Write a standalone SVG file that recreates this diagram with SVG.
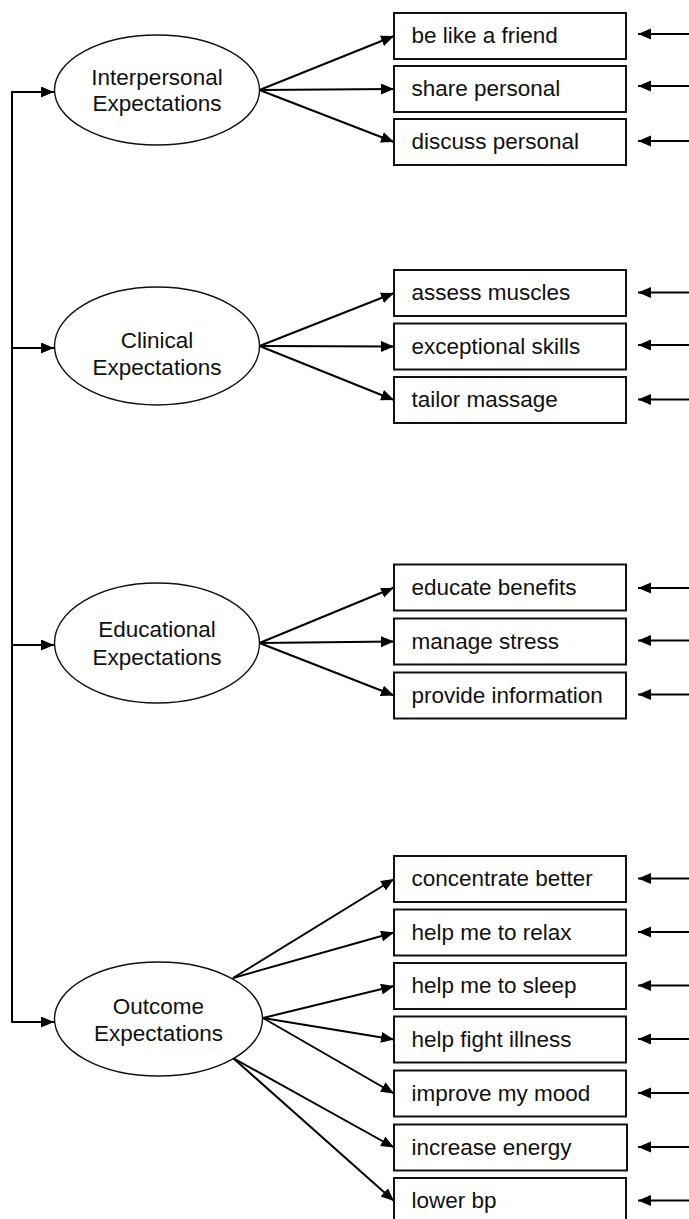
<svg xmlns="http://www.w3.org/2000/svg" width="689" height="1219" viewBox="0 0 689 1219">
<style>
.bg{fill:#fff}
.box{fill:#fff;stroke:#111;stroke-width:2}
.ell{fill:#fff;stroke:#111;stroke-width:1.4}
.t{font-family:"Liberation Sans",Arial,sans-serif;font-size:22.5px;fill:#111}
.c{text-anchor:middle}
.ln{fill:none;stroke:#000;stroke-width:2;marker-end:url(#ah)}
.trunk{fill:none;stroke:#000;stroke-width:2}
</style>
<defs>
<marker id="ah" markerUnits="userSpaceOnUse" markerWidth="14" markerHeight="12" refX="13" refY="5.5" orient="auto">
<path d="M0,0 L13,5.5 L0,11 z" fill="#000"/>
</marker>
</defs>
<rect class="bg" x="0" y="0" width="689" height="1219"/>

<g id="connectors">
<path class="trunk" d="M12,92 L12,1022"/>
<line class="ln" x1="11" y1="92" x2="54" y2="92"/>
<line class="ln" x1="12" y1="348" x2="54" y2="348"/>
<line class="ln" x1="12" y1="645" x2="54" y2="645"/>
<line class="ln" x1="11" y1="1022" x2="54" y2="1022"/>

<line class="ln" x1="259.5" y1="90" x2="394" y2="36"/>
<line class="ln" x1="259.5" y1="90" x2="394" y2="89"/>
<line class="ln" x1="259.5" y1="90" x2="394" y2="142"/>

<line class="ln" x1="259.5" y1="346" x2="394" y2="293"/>
<line class="ln" x1="259.5" y1="346" x2="394" y2="346.5"/>
<line class="ln" x1="259.5" y1="346" x2="394" y2="400"/>

<line class="ln" x1="259.5" y1="643" x2="394" y2="587.5"/>
<line class="ln" x1="259.5" y1="643" x2="394" y2="641.5"/>
<line class="ln" x1="259.5" y1="643" x2="394" y2="695.5"/>

<line class="ln" x1="233" y1="978" x2="394" y2="879"/>
<line class="ln" x1="233" y1="978" x2="394" y2="932.5"/>
<line class="ln" x1="263" y1="1018" x2="394" y2="986"/>
<line class="ln" x1="263" y1="1018" x2="394" y2="1039.5"/>
<line class="ln" x1="263" y1="1018" x2="394" y2="1093.5"/>
<line class="ln" x1="233" y1="1058" x2="394" y2="1147.5"/>
<line class="ln" x1="233" y1="1058" x2="394" y2="1201"/>

<line class="ln" x1="689" y1="34" x2="638" y2="34"/>
<line class="ln" x1="689" y1="86" x2="638" y2="86"/>
<line class="ln" x1="689" y1="141" x2="638" y2="141"/>
<line class="ln" x1="689" y1="292.5" x2="638" y2="292.5"/>
<line class="ln" x1="689" y1="345" x2="638" y2="345"/>
<line class="ln" x1="689" y1="399.5" x2="638" y2="399.5"/>
<line class="ln" x1="689" y1="588" x2="638" y2="588"/>
<line class="ln" x1="689" y1="640.5" x2="638" y2="640.5"/>
<line class="ln" x1="689" y1="694.5" x2="638" y2="694.5"/>
<line class="ln" x1="689" y1="878.5" x2="638" y2="878.5"/>
<line class="ln" x1="689" y1="932" x2="638" y2="932"/>
<line class="ln" x1="689" y1="985.5" x2="638" y2="985.5"/>
<line class="ln" x1="689" y1="1039" x2="638" y2="1039"/>
<line class="ln" x1="689" y1="1093" x2="638" y2="1093"/>
<line class="ln" x1="689" y1="1147" x2="638" y2="1147"/>
<line class="ln" x1="689" y1="1200.5" x2="638" y2="1200.5"/>
</g>

<g id="interpersonal">
<ellipse class="ell" cx="157" cy="90" rx="102.5" ry="55"/>
<text class="t c" x="157" y="85">Interpersonal</text>
<text class="t c" x="157" y="111">Expectations</text>
</g>
<g id="clinical">
<ellipse class="ell" cx="157" cy="346" rx="102.5" ry="59"/>
<text class="t c" x="157" y="348">Clinical</text>
<text class="t c" x="157" y="375">Expectations</text>
</g>
<g id="educational">
<ellipse class="ell" cx="157" cy="643" rx="102.5" ry="60"/>
<text class="t c" x="157" y="637">Educational</text>
<text class="t c" x="157" y="665">Expectations</text>
</g>
<g id="outcome">
<ellipse class="ell" cx="158.5" cy="1019" rx="104" ry="57"/>
<text class="t c" x="158.5" y="1014">Outcome</text>
<text class="t c" x="158.5" y="1041">Expectations</text>
</g>

<g id="be-like-a-friend"><rect class="box" x="394" y="13" width="232" height="46"/><text class="t" x="411.5" y="43">be like a friend</text></g>
<g id="share-personal"><rect class="box" x="394" y="66" width="232" height="46"/><text class="t" x="411.5" y="96">share personal</text></g>
<g id="discuss-personal"><rect class="box" x="394" y="119" width="232" height="46"/><text class="t" x="411.5" y="149">discuss personal</text></g>

<g id="assess-muscles"><rect class="box" x="394" y="270" width="232" height="46"/><text class="t" x="411.5" y="300">assess muscles</text></g>
<g id="exceptional-skills"><rect class="box" x="394" y="323.5" width="232" height="46"/><text class="t" x="411.5" y="353.5">exceptional skills</text></g>
<g id="tailor-massage"><rect class="box" x="394" y="377" width="232" height="46"/><text class="t" x="411.5" y="407">tailor massage</text></g>

<g id="educate-benefits"><rect class="box" x="394" y="564.5" width="232" height="46"/><text class="t" x="411.5" y="594.5">educate benefits</text></g>
<g id="manage-stress"><rect class="box" x="394" y="618.5" width="232" height="46"/><text class="t" x="411.5" y="648.5">manage stress</text></g>
<g id="provide-information"><rect class="box" x="394" y="672.5" width="232" height="46"/><text class="t" x="411.5" y="702.5">provide information</text></g>

<g id="concentrate-better"><rect class="box" x="394" y="856" width="232" height="46"/><text class="t" x="411.5" y="886">concentrate better</text></g>
<g id="help-me-to-relax"><rect class="box" x="394" y="909.5" width="232" height="46"/><text class="t" x="411.5" y="939.5">help me to relax</text></g>
<g id="help-me-to-sleep"><rect class="box" x="394" y="963" width="232" height="46"/><text class="t" x="411.5" y="993">help me to sleep</text></g>
<g id="help-fight-illness"><rect class="box" x="394" y="1016.5" width="232" height="46"/><text class="t" x="411.5" y="1046.5">help fight illness</text></g>
<g id="improve-my-mood"><rect class="box" x="394" y="1070.5" width="232" height="46"/><text class="t" x="411.5" y="1100.5">improve my mood</text></g>
<g id="increase-energy"><rect class="box" x="394" y="1124.5" width="233" height="46"/><text class="t" x="411.5" y="1154.5">increase energy</text></g>
<g id="lower-bp"><rect class="box" x="394" y="1178" width="232" height="46"/><text class="t" x="411.5" y="1208">lower bp</text></g>
</svg>
